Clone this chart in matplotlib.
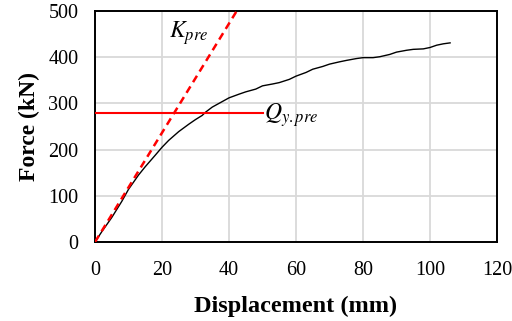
import matplotlib.pyplot as plt

# test curve
disp = [0, 2, 5, 8, 10, 13, 15, 18, 20, 22, 25, 28, 30, 32, 33, 35, 38, 40, 43, 45,
        48, 50, 53, 55, 58, 60, 63, 65, 68, 70, 73, 75, 78, 80, 83, 85, 88, 90,
        93, 95, 98, 100, 102, 104, 106]
force = [0, 22, 53, 88, 114, 145, 163, 188, 205, 220, 239, 255, 265, 274, 281, 292, 304, 312, 320, 325,
         331, 338, 342, 345, 352, 359, 367, 374, 380, 385, 390, 393, 397, 399, 399, 401, 406, 411,
         415, 417, 418, 421, 426, 429, 431]

k_disp = [0, 42.3]
k_force = [0, 500]
qy_disp = [0, 50]
qy_force = [280, 280]

plt.rcParams['mathtext.fontset'] = 'stix'
fig, ax = plt.subplots(figsize=(5.12, 3.21), dpi=100)
fig.subplots_adjust(left=95/512, right=497/512, top=1-11/321, bottom=1-242/321)

ax.plot(disp, force, color='black', lw=1.0, zorder=3)
ax.plot(k_disp, k_force, color='#ff0000', lw=1.8, ls=(0, (3, 2)), zorder=4)
ax.plot(qy_disp, qy_force, color='#ff0000', lw=1.5, zorder=4)

ax.text(22.0, 452, '$K_{pre}$', fontsize=17, va='center', ha='left')
ax.text(50.3, 274, '$Q_{y.pre}$', fontsize=17, va='center', ha='left')

ax.set_xlim(0, 120)
ax.set_ylim(0, 500)
ax.set_xticks(range(0, 121, 20))
ax.set_yticks(range(0, 501, 100))
ax.grid(True, color='#d9d9d9', lw=1.3)
ax.set_axisbelow(True)
ax.tick_params(length=0, labelsize=14.5)
ax.tick_params(axis='x', pad=14)
ax.tick_params(axis='y', pad=12)
for lab in ax.get_xticklabels() + ax.get_yticklabels():
    lab.set_family('Liberation Serif')
for s in ax.spines.values():
    s.set_linewidth(1.4)

ax.set_xlabel('Displacement (mm)', family='Liberation Serif', fontweight='bold', fontsize=17.5, labelpad=11)
ax.set_ylabel('Force (kN)', family='Liberation Serif', fontweight='bold', fontsize=17, labelpad=6)

fig.savefig('out.png', dpi=100)
